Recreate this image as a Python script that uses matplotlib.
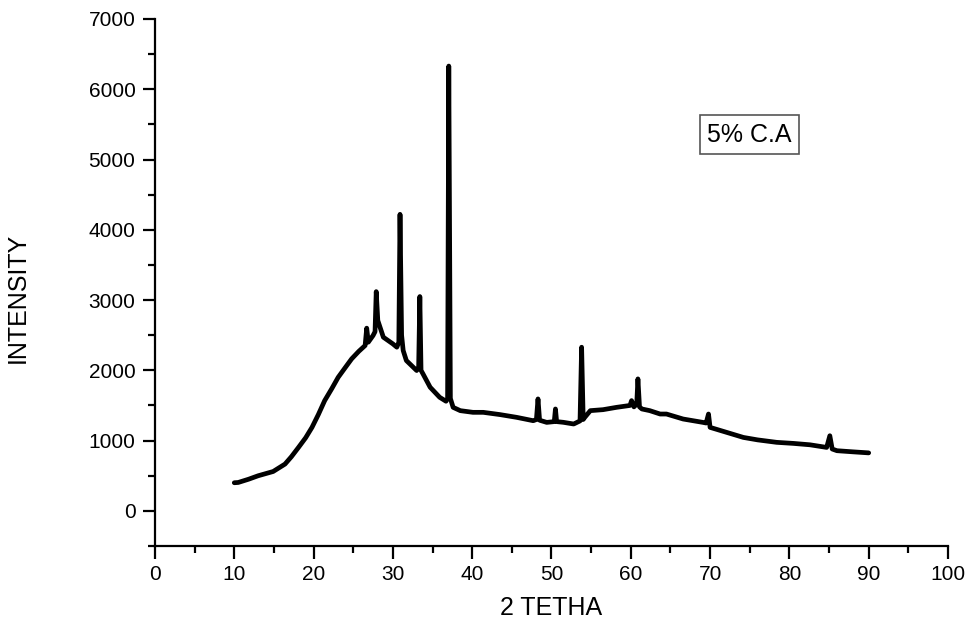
import matplotlib.pyplot as plt
from matplotlib.ticker import MultipleLocator

# XRD pattern
two_theta = [10.0, 10.5, 11.8, 13.0, 14.9, 16.4, 17.2, 18.1, 19.0, 19.8,
             20.6, 21.4, 22.3, 23.1, 24.0, 24.8, 25.7, 26.5, 26.7, 26.9,
             27.5, 27.75, 27.9, 28.1, 28.8, 30.0, 30.5, 30.75, 30.9, 31.1,
             31.3, 31.7, 33.0, 33.25, 33.4, 33.55, 33.8, 34.7, 35.9, 36.7,
             36.9, 37.05, 37.25, 37.6, 38.5, 40.1, 41.4, 43.5, 45.6, 47.7,
             48.1, 48.3, 48.5, 49.4, 50.35, 50.5, 50.65, 51.5, 52.8, 53.6,
             53.8, 54.0, 54.2, 54.9, 56.5, 58.2, 59.9, 60.1, 60.4, 60.75,
             60.9, 61.1, 61.4, 62.4, 63.7, 64.5, 66.6, 69.1, 69.5, 69.8,
             70.0, 72.0, 74.2, 76.0, 78.4, 80.5, 82.6, 84.7, 85.1, 85.4,
             86.0, 88.0, 90.0]
intensity = [400, 404, 450, 499, 560, 666, 770, 903, 1040, 1188,
             1370, 1569, 1740, 1900, 2040, 2163, 2270, 2353, 2600, 2400,
             2495, 2550, 3120, 2709, 2471, 2376, 2329, 2400, 4220, 2500,
             2282, 2139, 1997, 2050, 3050, 2000, 1949, 1759, 1616, 1560,
             1600, 6330, 1600, 1473, 1426, 1402, 1402, 1370, 1331, 1283,
             1300, 1593, 1290, 1259, 1270, 1450, 1270, 1260, 1236, 1280,
             2329, 1300, 1331, 1426, 1440, 1473, 1500, 1569, 1480, 1520,
             1878, 1480, 1450, 1426, 1378, 1378, 1307, 1259, 1250, 1378,
             1188, 1120, 1045, 1010, 975, 960, 940, 903, 1069, 880,
             856, 840, 825]

sample_label = "5% C.A"

plt.rcParams['font.family'] = ['Liberation Sans', 'DejaVu Sans']

fig = plt.figure(figsize=(9.71, 6.22), dpi=100)
ax = fig.add_axes([0.1596, 0.1222, 0.8167, 0.8473])

ax.plot(two_theta, intensity, color='black', linewidth=3.4,
        solid_joinstyle='round', solid_capstyle='round')

ax.set_xlim(0, 100)
ax.set_ylim(-500, 7000)
ax.xaxis.set_major_locator(MultipleLocator(10))
ax.xaxis.set_minor_locator(MultipleLocator(5))
ax.yaxis.set_major_locator(MultipleLocator(1000))
ax.yaxis.set_minor_locator(MultipleLocator(500))
ax.set_yticks(range(0, 7001, 1000))

for side in ['top', 'right']:
    ax.spines[side].set_visible(False)
for side in ['left', 'bottom']:
    ax.spines[side].set_linewidth(1.6)

ax.tick_params(which='major', direction='out', length=9, width=1.6,
               labelsize=15, colors='black', pad=5)
ax.tick_params(which='minor', direction='out', length=5, width=1.6)

ax.set_xlabel("2 TETHA", fontsize=18)
ax.set_ylabel("INTENSITY", fontsize=18)
ax.xaxis.set_label_coords(0.5, -0.095)
ax.yaxis.set_label_coords(-0.158, 0.47)

ax.text(75, 5350, sample_label, fontsize=18, ha='center', va='center',
        bbox=dict(boxstyle='square,pad=0.3', facecolor='white',
                  edgecolor='#555555', linewidth=1.2))

fig.savefig("out.png", dpi=100)
